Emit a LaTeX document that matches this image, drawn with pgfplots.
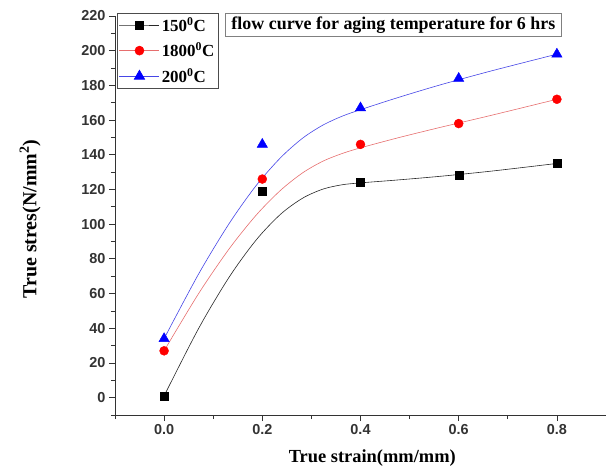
\documentclass[border=0pt]{standalone}
\usepackage{fontspec}
\setmainfont{Liberation Serif}
\setsansfont{Liberation Sans}
\usepackage{pgfplots}
\usepackage{pgfplotstable}
\pgfplotsset{compat=1.18}
\definecolor{curvered}{RGB}{230,110,110}
\definecolor{curveblue}{RGB}{70,70,230}
\definecolor{curveblack}{RGB}{40,40,40}

% markers
\pgfplotstableread{
x y
0.0 1
0.2 119
0.4 124
0.6 128
0.8 135
}\blackpts
\pgfplotstableread{
x y
0.0 27
0.2 126
0.4 146
0.6 158
0.8 172
}\redpts
\pgfplotstableread{
x y
0.0 34
0.2 146
0.4 167
0.6 184
0.8 198
}\bluepts
% fitted curves (positions)
\pgfplotstableread{
x y
0 1
0.0705 40.0
0.1328 69.6
0.1881 91.1
0.2375 105.8
0.2822 115.0
0.3234 120.2
0.3623 122.7
0.4 123.8
0.4766 125.5
0.5625 127.6
0.6672 130.6
0.8 135
}\blackcurve
\pgfplotstableread{
x y
0 27
0.0705 60.1
0.1328 85.9
0.1881 105.4
0.2375 119.6
0.2822 129.6
0.3234 136.3
0.3623 140.7
0.4 144.0
0.4766 149.8
0.5625 155.8
0.6672 162.8
0.8 172
}\redcurve
\pgfplotstableread{
x y
0 34
0.0705 71.4
0.1328 100.5
0.1881 122.5
0.2375 138.4
0.2822 149.6
0.3234 157.1
0.3623 162.2
0.4 166.0
0.4766 173.0
0.5625 180.3
0.6672 188.4
0.8 198
}\bluecurve

\begin{document}
\begin{tikzpicture}
\useasboundingbox (-115bp,-53bp) rectangle (491bp,415bp);
\begin{axis}[
  scale only axis, width=491bp, height=399bp,
  xmin=-0.1, xmax=0.9, ymin=-10, ymax=220,
  axis lines=left, axis line style={-, line width=0.8bp, black!80},
  clip=false,
  xtick={0,0.2,0.4,0.6,0.8},
  ytick={0,20,40,60,80,100,120,140,160,180,200,220},
  minor xtick={-0.1,0.1,0.3,0.5,0.7,0.9},
  minor ytick={-10,10,30,50,70,90,110,130,150,170,190,210},
  tick align=outside,
  major tick length=6bp, minor tick length=4bp,
  tick style={black!80, line width=0.8bp},
  xticklabel style={/pgf/number format/.cd, fixed, fixed zerofill, precision=1},
  /pgf/number format/assume math mode=true,
  tick label style={font=\sffamily\bfseries\fontsize{14.5}{16}\selectfont, text=black!80},
  xlabel={True strain(mm/mm)},
  ylabel={True stres(N/mm\textsuperscript{2})},
  xlabel style={at={(axis description cs:0.524,-0.108)}, anchor=center,
    font=\bfseries\fontsize{18.5}{21}\selectfont},
  ylabel style={at={(axis description cs:-0.173,0.491)}, anchor=center,
    font=\bfseries\fontsize{20}{23}\selectfont},
  legend style={at={(axis description cs:0.004,1.0075)}, anchor=north west,
    draw=black!70, fill=white, font=\bfseries\fontsize{17}{20}\selectfont,
    inner sep=2bp, row sep=6bp},
  legend cell align=left,
  legend image code/.code={\draw[mark repeat=2,mark phase=2,#1] plot coordinates {(0bp,0bp) (20bp,0bp) (40bp,0bp)};},
]
\addplot[curveblack, line width=0.6bp, smooth, forget plot] table[x=x,y=y] {\blackcurve};
\addplot[curvered, line width=0.6bp, smooth, forget plot] table[x=x,y=y] {\redcurve};
\addplot[curveblue, line width=0.6bp, smooth, forget plot] table[x=x,y=y] {\bluecurve};
\addplot[only marks, mark=square*, mark size=4bp, black, forget plot] table[x=x,y=y] {\blackpts};
\addplot[only marks, mark=*, mark size=4.5bp, red, forget plot] table[x=x,y=y] {\redpts};
\addplot[only marks, mark=triangle*, mark size=6bp, blue, forget plot] table[x=x,y=y] {\bluepts};
\addlegendimage{curveblack, line width=0.6bp, mark=square*, mark size=4bp, mark options={black}}
\addlegendimage{curvered, line width=0.6bp, mark=*, mark size=4.5bp, mark options={red}}
\addlegendimage{curveblue, line width=0.6bp, mark=triangle*, mark size=6bp, mark options={blue}}
\legend{150\textsuperscript{0}C, 1800\textsuperscript{0}C, 200\textsuperscript{0}C}
\node[draw=black!50, line width=0.8bp, fill=white, font=\bfseries\fontsize{18}{20}\selectfont,
  minimum width=335bp, minimum height=23bp, inner sep=1bp]
  at (axis description cs:0.567,0.977) {flow curve for aging temperature for 6 hrs};
\end{axis}
\end{tikzpicture}
\end{document}
